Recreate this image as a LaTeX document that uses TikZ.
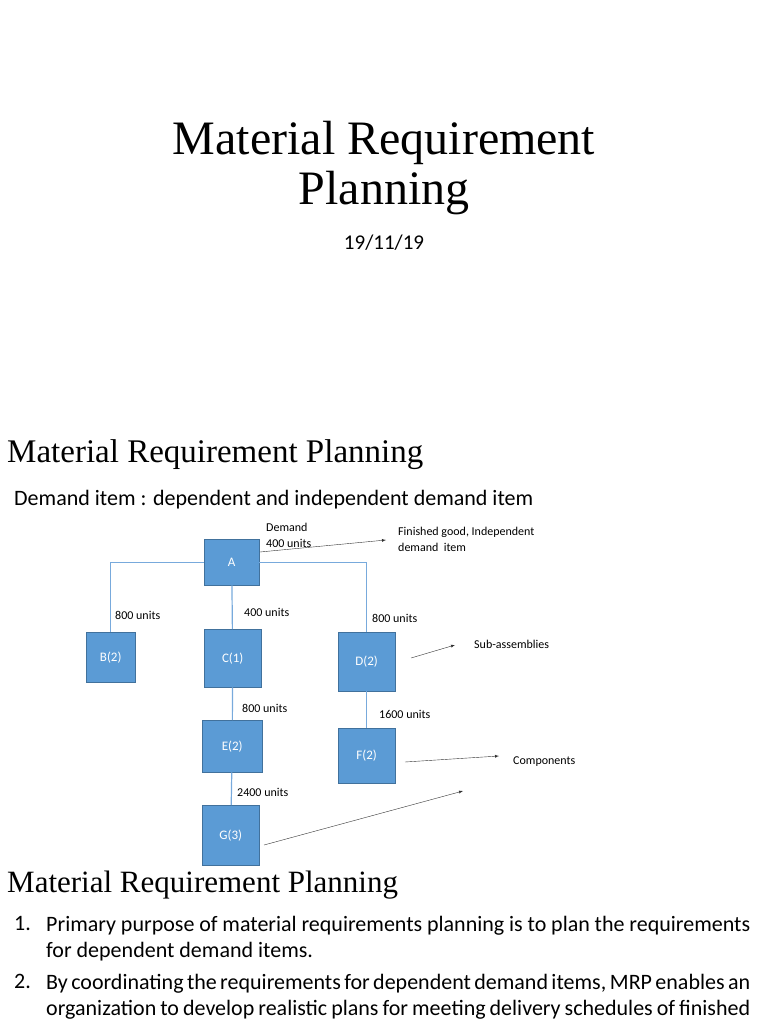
\documentclass[tikz,border=0pt]{standalone}
\usepackage{fontspec}
\setmainfont{Liberation Serif}
\newfontfamily\calfont{Carlito}
\begin{document}
\begin{tikzpicture}[x=1pt,y=-1pt,
  bx/.style={draw={rgb,255:red,65;green,113;blue,156},fill={rgb,255:red,91;green,155;blue,213},text=white,font=\calfont\fontsize{13}{15}\selectfont,inner sep=0,anchor=north west},
  ln/.style={draw={rgb,255:red,120;green,170;blue,220},line width=1.2pt},
  lab/.style={font=\calfont\fontsize{12}{16}\selectfont,anchor=west,inner sep=0},
  ar/.style={-latex,thin,black!80},
  item/.style={font=\calfont\fontsize{22}{26}\selectfont,anchor=north west,inner sep=0,text width=704,align=justify}]
\useasboundingbox (0,0) rectangle (768,1024);
\node[font=\fontsize{48}{50}\selectfont,align=center] (t1) at (384,168) {Material Requirement\\Planning};
\node[font=\calfont\fontsize{21}{24}\selectfont] (dt) at (384,243) {19/11/19};
\node[font=\fontsize{33}{36}\selectfont,anchor=west,inner sep=0] (h1) at (7,455) {Material Requirement Planning};
\node[font=\calfont\fontsize{22}{24}\selectfont,anchor=west,inner sep=0] (d1) at (14,500) {Demand item : dependent and independent demand item};
\node[bx,minimum width=55,minimum height=46] (A) at (204,539) {A};
\node[bx,minimum width=49,minimum height=50] (B) at (86,632) {B(2)};
\node[bx,minimum width=57,minimum height=58] (C) at (204,629) {C(1)};
\node[bx,minimum width=57,minimum height=59] (D) at (338,632) {D(2)};
\node[bx,minimum width=60,minimum height=52] (E) at (202,720) {E(2)};
\node[bx,minimum width=57,minimum height=55] (F) at (338,728) {F(2)};
\node[bx,minimum width=57,minimum height=60] (G) at (202,805) {G(3)};
\draw[ln] (A.west) -| (B.north);
\draw[ln] (A.east) -| (D.north);
\draw[ln] (A) -- (C);
\draw[ln] (C) -- (E);
\draw[ln] (E) -- (G);
\draw[ln] (D) -- (F);
\node[lab] (l1) at (115,615) {800 units};
\node[lab] (l2) at (244,612) {400 units};
\node[lab] (l3) at (372,618) {800 units};
\node[lab] (l4) at (242,708) {800 units};
\node[lab] (l5) at (379,714) {1600 units};
\node[lab] (l6) at (237,792) {2400 units};
\node[lab,align=left,anchor=north west] (dm) at (266,523) {Demand\\400 units};
\node[lab,align=left,anchor=north west] (fg) at (398,527) {Finished good, Independent\\demand\ \ item};
\node[lab] (sa) at (474,644) {Sub-assemblies};
\node[lab] (cp) at (513,762) {Components};
\coordinate (a1s) at (260,552); \coordinate (a1e) at (386,540);
\coordinate (a2s) at (411,658); \coordinate (a2e) at (455,645);
\coordinate (a3s) at (405,762); \coordinate (a3e) at (499,756);
\coordinate (a4s) at (264,845); \coordinate (a4e) at (463,791);
\draw[ar] (a1s) -- (a1e);
\draw[ar] (a2s) -- (a2e);
\draw[ar] (a3s) -- (a3e);
\draw[ar] (a4s) -- (a4e);
\node[font=\fontsize{31}{34}\selectfont,anchor=west,inner sep=0] (h2) at (7,885) {Material Requirement Planning};
\node[font=\calfont\fontsize{22}{26}\selectfont,anchor=north west,inner sep=0] (n1) at (14,916) {1.};
\node[item] (i1) at (46,916) {\hyphenpenalty=10000 Primary purpose of material requirements planning is to plan the requirements for dependent demand items.};
\node[font=\calfont\fontsize{22}{26}\selectfont,anchor=north west,inner sep=0] (n2) at (14,974) {2.};
\node[item] (i2) at (46,974) {\hyphenpenalty=10000 By coordinating the requirements for dependent demand items, MRP enables an organization to develop realistic plans for meeting delivery schedules of finished};
\end{tikzpicture}
\end{document}
